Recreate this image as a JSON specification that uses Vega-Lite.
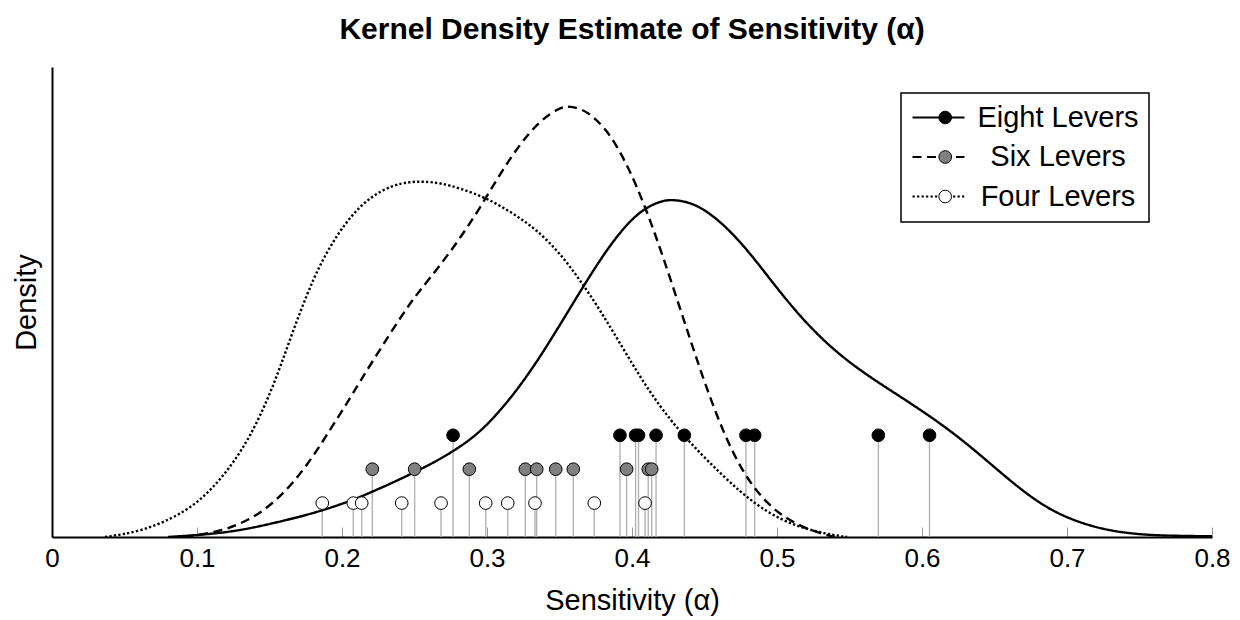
{
  "$schema": "https://vega.github.io/schema/vega-lite/v6.json",
  "autosize": {"type": "none"},
  "width": 1160,
  "height": 470,
  "padding": {"left": 52, "top": 67, "right": 28, "bottom": 83},
  "background": "white",
  "title": {
    "text": "Kernel Density Estimate of Sensitivity (α)",
    "font": "Liberation Sans",
    "fontSize": 30,
    "fontWeight": "bold",
    "color": "black",
    "anchor": "middle",
    "offset": 22
  },
  "config": {
    "font": "Liberation Sans",
    "view": {"stroke": null},
    "axis": {"grid": false}
  },
  "datasets": {
    "curves": [
      {"series": "Eight Levers", "alpha": 0.08, "density": 0.0},
      {"series": "Eight Levers", "alpha": 0.1069, "density": 0.037},
      {"series": "Eight Levers", "alpha": 0.1297, "density": 0.096},
      {"series": "Eight Levers", "alpha": 0.1524, "density": 0.202},
      {"series": "Eight Levers", "alpha": 0.1759, "density": 0.324},
      {"series": "Eight Levers", "alpha": 0.1938, "density": 0.442},
      {"series": "Eight Levers", "alpha": 0.2103, "density": 0.568},
      {"series": "Eight Levers", "alpha": 0.2283, "density": 0.737},
      {"series": "Eight Levers", "alpha": 0.2448, "density": 0.9},
      {"series": "Eight Levers", "alpha": 0.2586, "density": 1.047},
      {"series": "Eight Levers", "alpha": 0.2676, "density": 1.15},
      {"series": "Eight Levers", "alpha": 0.2814, "density": 1.327},
      {"series": "Eight Levers", "alpha": 0.2952, "density": 1.549},
      {"series": "Eight Levers", "alpha": 0.309, "density": 1.858},
      {"series": "Eight Levers", "alpha": 0.3228, "density": 2.227},
      {"series": "Eight Levers", "alpha": 0.3366, "density": 2.655},
      {"series": "Eight Levers", "alpha": 0.3503, "density": 3.127},
      {"series": "Eight Levers", "alpha": 0.3641, "density": 3.614},
      {"series": "Eight Levers", "alpha": 0.3779, "density": 4.086},
      {"series": "Eight Levers", "alpha": 0.3917, "density": 4.499},
      {"series": "Eight Levers", "alpha": 0.4055, "density": 4.808},
      {"series": "Eight Levers", "alpha": 0.4193, "density": 4.956},
      {"series": "Eight Levers", "alpha": 0.4283, "density": 4.978},
      {"series": "Eight Levers", "alpha": 0.4421, "density": 4.926},
      {"series": "Eight Levers", "alpha": 0.4559, "density": 4.742},
      {"series": "Eight Levers", "alpha": 0.4697, "density": 4.469},
      {"series": "Eight Levers", "alpha": 0.4834, "density": 4.13},
      {"series": "Eight Levers", "alpha": 0.4972, "density": 3.746},
      {"series": "Eight Levers", "alpha": 0.511, "density": 3.378},
      {"series": "Eight Levers", "alpha": 0.5248, "density": 3.053},
      {"series": "Eight Levers", "alpha": 0.5386, "density": 2.773},
      {"series": "Eight Levers", "alpha": 0.5524, "density": 2.537},
      {"series": "Eight Levers", "alpha": 0.5662, "density": 2.33},
      {"series": "Eight Levers", "alpha": 0.58, "density": 2.139},
      {"series": "Eight Levers", "alpha": 0.5938, "density": 1.947},
      {"series": "Eight Levers", "alpha": 0.6076, "density": 1.748},
      {"series": "Eight Levers", "alpha": 0.6214, "density": 1.534},
      {"series": "Eight Levers", "alpha": 0.6352, "density": 1.298},
      {"series": "Eight Levers", "alpha": 0.649, "density": 1.047},
      {"series": "Eight Levers", "alpha": 0.6628, "density": 0.796},
      {"series": "Eight Levers", "alpha": 0.6766, "density": 0.568},
      {"series": "Eight Levers", "alpha": 0.6903, "density": 0.383},
      {"series": "Eight Levers", "alpha": 0.7041, "density": 0.251},
      {"series": "Eight Levers", "alpha": 0.7179, "density": 0.155},
      {"series": "Eight Levers", "alpha": 0.7317, "density": 0.088},
      {"series": "Eight Levers", "alpha": 0.7455, "density": 0.049},
      {"series": "Eight Levers", "alpha": 0.7593, "density": 0.027},
      {"series": "Eight Levers", "alpha": 0.7731, "density": 0.018},
      {"series": "Eight Levers", "alpha": 0.8, "density": 0.01},

      {"series": "Six Levers", "alpha": 0.0917, "density": 0.0},
      {"series": "Six Levers", "alpha": 0.1041, "density": 0.04},
      {"series": "Six Levers", "alpha": 0.1207, "density": 0.111},
      {"series": "Six Levers", "alpha": 0.1386, "density": 0.28},
      {"series": "Six Levers", "alpha": 0.1524, "density": 0.497},
      {"series": "Six Levers", "alpha": 0.1662, "density": 0.792},
      {"series": "Six Levers", "alpha": 0.18, "density": 1.184},
      {"series": "Six Levers", "alpha": 0.1917, "density": 1.578},
      {"series": "Six Levers", "alpha": 0.2034, "density": 1.972},
      {"series": "Six Levers", "alpha": 0.2124, "density": 2.294},
      {"series": "Six Levers", "alpha": 0.2241, "density": 2.692},
      {"series": "Six Levers", "alpha": 0.2352, "density": 3.068},
      {"series": "Six Levers", "alpha": 0.2469, "density": 3.444},
      {"series": "Six Levers", "alpha": 0.2538, "density": 3.636},
      {"series": "Six Levers", "alpha": 0.2676, "density": 4.004},
      {"series": "Six Levers", "alpha": 0.2814, "density": 4.403},
      {"series": "Six Levers", "alpha": 0.2952, "density": 4.853},
      {"series": "Six Levers", "alpha": 0.309, "density": 5.354},
      {"series": "Six Levers", "alpha": 0.3228, "density": 5.796},
      {"series": "Six Levers", "alpha": 0.3366, "density": 6.143},
      {"series": "Six Levers", "alpha": 0.3503, "density": 6.335},
      {"series": "Six Levers", "alpha": 0.3572, "density": 6.357},
      {"series": "Six Levers", "alpha": 0.369, "density": 6.288},
      {"series": "Six Levers", "alpha": 0.3828, "density": 6.003},
      {"series": "Six Levers", "alpha": 0.3938, "density": 5.609},
      {"series": "Six Levers", "alpha": 0.4034, "density": 5.167},
      {"series": "Six Levers", "alpha": 0.4124, "density": 4.676},
      {"series": "Six Levers", "alpha": 0.4214, "density": 4.134},
      {"series": "Six Levers", "alpha": 0.431, "density": 3.51},
      {"series": "Six Levers", "alpha": 0.44, "density": 2.92},
      {"series": "Six Levers", "alpha": 0.449, "density": 2.345},
      {"series": "Six Levers", "alpha": 0.4586, "density": 1.785},
      {"series": "Six Levers", "alpha": 0.4676, "density": 1.327},
      {"series": "Six Levers", "alpha": 0.4793, "density": 0.855},
      {"series": "Six Levers", "alpha": 0.4931, "density": 0.494},
      {"series": "Six Levers", "alpha": 0.5069, "density": 0.258},
      {"series": "Six Levers", "alpha": 0.5248, "density": 0.081},
      {"series": "Six Levers", "alpha": 0.54, "density": 0.0},

      {"series": "Four Levers", "alpha": 0.0366, "density": 0.0},
      {"series": "Four Levers", "alpha": 0.0607, "density": 0.078},
      {"series": "Four Levers", "alpha": 0.0834, "density": 0.276},
      {"series": "Four Levers", "alpha": 0.1, "density": 0.497},
      {"series": "Four Levers", "alpha": 0.1138, "density": 0.792},
      {"series": "Four Levers", "alpha": 0.1248, "density": 1.087},
      {"series": "Four Levers", "alpha": 0.1366, "density": 1.479},
      {"series": "Four Levers", "alpha": 0.1483, "density": 2.006},
      {"series": "Four Levers", "alpha": 0.1572, "density": 2.493},
      {"series": "Four Levers", "alpha": 0.1662, "density": 3.038},
      {"series": "Four Levers", "alpha": 0.1759, "density": 3.584},
      {"series": "Four Levers", "alpha": 0.1848, "density": 4.012},
      {"series": "Four Levers", "alpha": 0.1938, "density": 4.358},
      {"series": "Four Levers", "alpha": 0.2055, "density": 4.72},
      {"series": "Four Levers", "alpha": 0.2193, "density": 5.015},
      {"series": "Four Levers", "alpha": 0.2352, "density": 5.192},
      {"series": "Four Levers", "alpha": 0.2469, "density": 5.236},
      {"series": "Four Levers", "alpha": 0.2559, "density": 5.243},
      {"series": "Four Levers", "alpha": 0.2676, "density": 5.221},
      {"series": "Four Levers", "alpha": 0.2814, "density": 5.143},
      {"series": "Four Levers", "alpha": 0.3, "density": 4.996},
      {"series": "Four Levers", "alpha": 0.3179, "density": 4.774},
      {"series": "Four Levers", "alpha": 0.3345, "density": 4.528},
      {"series": "Four Levers", "alpha": 0.3503, "density": 4.184},
      {"series": "Four Levers", "alpha": 0.3641, "density": 3.791},
      {"series": "Four Levers", "alpha": 0.3779, "density": 3.348},
      {"series": "Four Levers", "alpha": 0.3917, "density": 2.857},
      {"series": "Four Levers", "alpha": 0.4055, "density": 2.364},
      {"series": "Four Levers", "alpha": 0.4193, "density": 1.922},
      {"series": "Four Levers", "alpha": 0.4331, "density": 1.556},
      {"series": "Four Levers", "alpha": 0.4469, "density": 1.239},
      {"series": "Four Levers", "alpha": 0.4607, "density": 0.944},
      {"series": "Four Levers", "alpha": 0.4745, "density": 0.671},
      {"series": "Four Levers", "alpha": 0.4883, "density": 0.435},
      {"series": "Four Levers", "alpha": 0.5069, "density": 0.206},
      {"series": "Four Levers", "alpha": 0.5297, "density": 0.059},
      {"series": "Four Levers", "alpha": 0.5483, "density": 0.0}
    ],
    "points": [
      {"group": "Eight Levers", "alpha": 0.2766, "level": 1.5},
      {"group": "Eight Levers", "alpha": 0.3917, "level": 1.5},
      {"group": "Eight Levers", "alpha": 0.4025, "level": 1.5},
      {"group": "Eight Levers", "alpha": 0.4045, "level": 1.5},
      {"group": "Eight Levers", "alpha": 0.4166, "level": 1.5},
      {"group": "Eight Levers", "alpha": 0.4361, "level": 1.5},
      {"group": "Eight Levers", "alpha": 0.4786, "level": 1.5},
      {"group": "Eight Levers", "alpha": 0.4846, "level": 1.5},
      {"group": "Eight Levers", "alpha": 0.5699, "level": 1.5},
      {"group": "Eight Levers", "alpha": 0.6052, "level": 1.5},
      {"group": "Six Levers", "alpha": 0.2209, "level": 1.0},
      {"group": "Six Levers", "alpha": 0.2501, "level": 1.0},
      {"group": "Six Levers", "alpha": 0.2878, "level": 1.0},
      {"group": "Six Levers", "alpha": 0.3264, "level": 1.0},
      {"group": "Six Levers", "alpha": 0.3343, "level": 1.0},
      {"group": "Six Levers", "alpha": 0.3474, "level": 1.0},
      {"group": "Six Levers", "alpha": 0.3595, "level": 1.0},
      {"group": "Six Levers", "alpha": 0.3963, "level": 1.0},
      {"group": "Six Levers", "alpha": 0.4112, "level": 1.0},
      {"group": "Six Levers", "alpha": 0.4136, "level": 1.0},
      {"group": "Four Levers", "alpha": 0.1864, "level": 0.5},
      {"group": "Four Levers", "alpha": 0.2078, "level": 0.5},
      {"group": "Four Levers", "alpha": 0.2136, "level": 0.5},
      {"group": "Four Levers", "alpha": 0.2412, "level": 0.5},
      {"group": "Four Levers", "alpha": 0.2683, "level": 0.5},
      {"group": "Four Levers", "alpha": 0.2991, "level": 0.5},
      {"group": "Four Levers", "alpha": 0.3143, "level": 0.5},
      {"group": "Four Levers", "alpha": 0.3331, "level": 0.5},
      {"group": "Four Levers", "alpha": 0.374, "level": 0.5},
      {"group": "Four Levers", "alpha": 0.409, "level": 0.5}
    ]
  },
  "encoding": {
    "x": {
      "field": "alpha",
      "type": "quantitative",
      "scale": {"domain": [0, 0.8], "nice": false},
      "axis": {
        "title": "Sensitivity (α)",
        "titleFont": "Liberation Sans",
        "titleFontSize": 29,
        "titleFontWeight": "normal",
        "titleColor": "black",
        "titlePadding": 15,
        "values": [0, 0.1, 0.2, 0.3, 0.4, 0.5, 0.6, 0.7, 0.8],
        "format": "~g",
        "labelFont": "Liberation Sans",
        "labelFontSize": 26,
        "labelColor": "black",
        "labelPadding": 18,
        "labelFlush": false,
        "domainColor": "black",
        "domainWidth": 2,
        "tickColor": "#999999",
        "tickWidth": 1,
        "tickSize": -10
      }
    }
  },
  "layer": [
    {
      "data": {"name": "points"},
      "mark": {"type": "rule", "color": "#b3b3b3", "strokeWidth": 1.4},
      "encoding": {
        "y": {"field": "level", "type": "quantitative"},
        "y2": {"datum": 0}
      }
    },
    {
      "data": {"name": "curves"},
      "mark": {"type": "line", "color": "black", "strokeWidth": 2.4, "interpolate": "basis", "clip": true},
      "encoding": {
        "y": {
          "field": "density",
          "type": "quantitative",
          "scale": {"domain": [0, 6.93], "nice": false},
          "axis": {
            "title": "Density",
            "titleFont": "Liberation Sans",
            "titleFontSize": 29,
            "titleFontWeight": "normal",
            "titleColor": "black",
            "titlePadding": 11,
            "labels": false,
            "ticks": false,
            "domainColor": "black",
            "domainWidth": 2
          }
        },
        "strokeDash": {
          "field": "series",
          "type": "nominal",
          "scale": {
            "domain": ["Eight Levers", "Six Levers", "Four Levers"],
            "range": [[1, 0], [9, 5.5], [2.3, 2.2]]
          },
          "legend": {
            "title": null,
            "orient": "none",
            "legendX": 849,
            "legendY": 26,
            "zindex": 1,
            "padding": 10,
            "rowPadding": 9.5,
            "clipHeight": 29,
            "strokeColor": "black",
            "fillColor": "white",
            "cornerRadius": 0,
            "symbolType": "stroke",
            "symbolSize": 2704,
            "symbolStrokeColor": "black",
            "symbolStrokeWidth": 2.2,
            "labelFont": "Liberation Sans",
            "labelFontSize": 29,
            "labelColor": "black",
            "labelAlign": "center",
            "labelOffset": 92,
            "labelLimit": 300,
            "encode": {"legend": {"update": {"strokeWidth": {"value": 1.5}}}}
          }
        }
      }
    },
    {
      "data": {"name": "points"},
      "mark": {"type": "circle", "size": 160, "stroke": "black", "strokeWidth": 1, "opacity": 1},
      "encoding": {
        "y": {"field": "level", "type": "quantitative"},
        "fill": {
          "field": "group",
          "type": "nominal",
          "sort": ["Eight Levers", "Six Levers", "Four Levers"],
          "scale": {"range": ["#000000", "#808080", "#ffffff"]},
          "legend": {
            "title": null,
            "orient": "none",
            "legendX": 849,
            "legendY": 26,
            "zindex": 2,
            "padding": 10,
            "rowPadding": 9.5,
            "clipHeight": 29,
            "symbolType": "circle",
            "symbolSize": 160,
            "symbolOffset": 19.7,
            "symbolStrokeColor": "black",
            "symbolStrokeWidth": 1,
            "symbolOpacity": 1,
            "labelFont": "Liberation Sans",
            "labelFontSize": 29,
            "labelExpr": "''"
          }
        }
      }
    }
  ]
}
